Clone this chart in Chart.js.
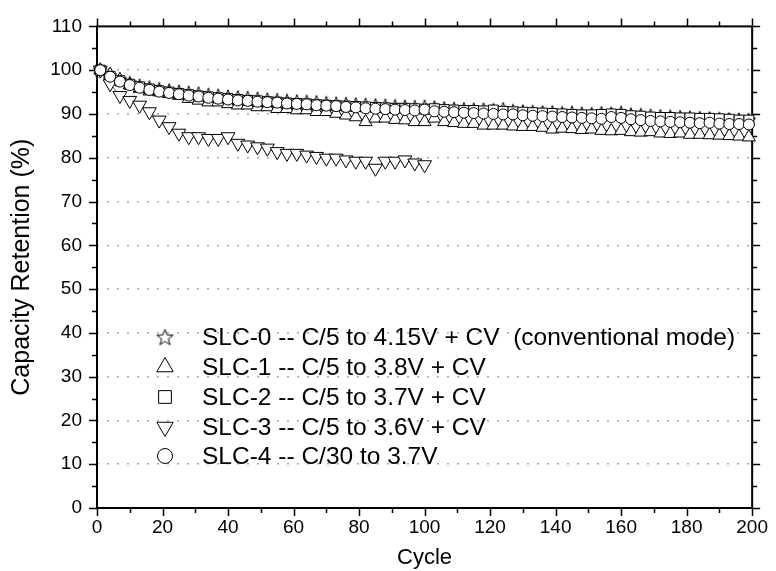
<!DOCTYPE html>
<html lang="en">
<head>
  <meta charset="UTF-8">
  <title>Capacity Retention vs Cycle</title>
  <script src="https://cdn.jsdelivr.net/npm/chart.js"></script>
  <style>
    body {
      margin: 0;
      padding: 0;
      background: #fff;
    }
    #wrap {
      width: 776px;
      height: 571px;
      position: relative;
    }
  </style>
</head>
<body>

<div id="wrap">
  <canvas id="retentionChart" width="776" height="571"></canvas>
</div>

<script>
  // cycle numbers (one point every 3 cycles)
  var cycles = [1, 4, 7, 10, 13, 16, 19, 22, 25, 28, 31, 34, 37, 40, 43, 46, 49, 52, 55, 58,
    61, 64, 67, 70, 73, 76, 79, 82, 85, 88, 91, 94, 97, 100, 103, 106, 109, 112, 115, 118,
    121, 124, 127, 130, 133, 136, 139, 142, 145, 148, 151, 154, 157, 160, 163, 166, 169, 172, 175, 178,
    181, 184, 187, 190, 193, 196, 199];

  // capacity retention (%)
  var slc0 = [100, 98.8, 97.9, 97.2, 96.6, 96.2, 95.8, 95.5, 95.2, 95.0, 94.8, 94.5, 94.3, 94.1, 93.9, 93.8, 93.6, 93.4, 93.3, 93.1,
    93.0, 92.9, 92.8, 92.6, 92.5, 92.4, 92.3, 92.2, 92.1, 92.0, 91.9, 91.8, 91.7, 91.8, 91.6, 91.4, 91.3, 91.2, 91.1, 91.1,
    91.0, 91.2, 90.8, 90.7, 90.6, 90.5, 90.5, 90.3, 90.4, 90.2, 90.1, 90.3, 90.2, 90.4, 90.0, 89.9, 89.7, 89.6, 89.5, 89.4,
    89.3, 89.2, 89.1, 89.0, 88.9, 88.8, 88.7];
  var slc1 = [100, 99.0, 97.8, 96.6, 95.8, 95.2, 95.0, 94.6, 94.2, 93.5, 93.1, 92.7, 92.7, 92.3, 92.0, 92.0, 91.6, 91.6, 91.2, 91.2,
    90.9, 90.9, 90.5, 90.5, 90.1, 89.7, 89.3, 88.2, 89.0, 89.0, 88.7, 88.6, 88.2, 88.2, 89.0, 88.2, 88.0, 87.8, 87.8, 87.4,
    87.4, 87.4, 87.2, 87.1, 87.1, 86.9, 86.5, 86.7, 86.6, 86.4, 86.5, 86.2, 86.1, 86.2, 85.9, 85.8, 85.9, 85.6, 85.5, 85.6,
    85.3, 85.3, 85.2, 85.1, 85.0, 84.9, 84.7];
  var slc2 = [100, 98.6, 97.6, 96.8, 96.2, 95.7, 95.3, 95.0, 94.7, 94.4, 94.1, 93.9, 93.7, 93.5, 93.3, 93.1, 93.0, 92.8, 92.7, 92.5,
    92.4, 92.3, 92.1, 92.0, 91.9, 91.8, 91.7, 91.6, 91.5, 91.4, 91.3, 91.3, 91.2, 91.1, 91.2, 91.0, 90.9, 90.8, 90.8, 90.7,
    90.9, 90.6, 90.5, 90.4, 90.3, 90.2, 90.1, 90.0, 89.9, 89.8, 89.8, 89.9, 90.0, 89.9, 89.6, 89.5, 89.3, 89.2, 89.2, 89.1,
    89.1, 89.0, 89.0, 88.9, 88.8, 88.6, 88.6];
  var slc3 = [100, 96.9, 94.2, 93.1, 92.0, 90.5, 88.6, 87.1, 85.6, 84.8, 84.8, 84.4, 84.4, 84.8, 83.3, 82.9, 82.5, 82.2, 81.4, 81.0,
    81.0, 80.6, 80.3, 79.9, 79.9, 79.5, 79.2, 79.2, 77.6, 79.2, 79.2, 79.5, 78.8, 78.4];
  var slc4 = [100, 98.5, 97.4, 96.6, 96.0, 95.5, 95.1, 94.8, 94.5, 94.2, 94.0, 93.7, 93.5, 93.3, 93.1, 93.0, 92.8, 92.7, 92.6, 92.4,
    92.3, 92.2, 92.0, 91.9, 91.8, 91.6, 91.5, 91.3, 91.2, 91.1, 91.0, 90.9, 90.8, 91.0, 90.6, 90.5, 90.4, 90.3, 90.2, 90.1,
    90.0, 89.9, 89.9, 89.7, 89.6, 89.5, 89.4, 89.3, 89.2, 89.1, 89.0, 88.9, 89.3, 89.1, 88.8, 88.6, 88.4, 88.3, 88.2, 88.1,
    88.0, 87.9, 88.0, 87.8, 87.7, 87.7, 87.6];

  var seriesLabels = [
    'SLC-0 -- C/5 to 4.15V + CV  (conventional mode)',
    'SLC-1 -- C/5 to 3.8V + CV',
    'SLC-2 -- C/5 to 3.7V + CV',
    'SLC-3 -- C/5 to 3.6V + CV',
    'SLC-4 -- C/30 to 3.7V'
  ];

  var FONT = "'Liberation Sans', Arial, sans-serif";

  // open five-point star, Chart.js has no such point style
  function makeStar(r) {
    var size = Math.ceil(r * 2 + 4);
    var c = document.createElement('canvas');
    c.width = size;
    c.height = size;
    var g = c.getContext('2d');
    var cx = size / 2, cy = size / 2 + r * 0.1;
    g.beginPath();
    for (var i = 0; i < 10; i++) {
      var a = -Math.PI / 2 + i * Math.PI / 5;
      var rr = (i % 2) ? r * 0.42 : r;
      var px = cx + Math.cos(a) * rr, py = cy + Math.sin(a) * rr;
      if (i === 0) g.moveTo(px, py); else g.lineTo(px, py);
    }
    g.closePath();
    g.fillStyle = '#fff';
    g.fill();
    g.lineWidth = 1;
    g.strokeStyle = '#000';
    g.stroke();
    return c;
  }

  var starSmall = makeStar(7);
  var starBig = makeStar(8.5);

  function toPoints(ys) {
    return ys.map(function (y, i) { return { x: cycles[i], y: y }; });
  }

  function series(label, ys, style, radius, rotation, order) {
    return {
      label: label,
      data: toPoints(ys),
      borderColor: '#555',
      borderWidth: 1,
      pointStyle: style,
      pointRadius: radius,
      pointRotation: rotation,
      pointBackgroundColor: '#fff',
      pointBorderColor: '#000',
      pointBorderWidth: 1,
      fill: false,
      tension: 0,
      clip: false,
      order: order
    };
  }

  // legend symbols (bigger than in-plot markers)
  var legendMarks = [
    { pointStyle: starBig, radius: 8, rotation: 0 },
    { pointStyle: 'triangle', radius: 9.5, rotation: 0 },
    { pointStyle: 'rect', radius: 9, rotation: 0 },
    { pointStyle: 'triangle', radius: 9.5, rotation: 180 },
    { pointStyle: 'circle', radius: 7.5, rotation: 0 }
  ];

  var framePlugin = {
    id: 'frame',
    beforeDatasetsDraw: function (chart) {
      var ctx = chart.ctx, a = chart.chartArea;
      var xs = chart.scales.x, ys = chart.scales.y;
      ctx.save();
      ctx.strokeStyle = '#000';
      ctx.lineWidth = 1.5;
      ctx.beginPath();
      // x ticks, major every 20, minor every 10
      for (var v = 0; v <= 200; v += 10) {
        var px = Math.round(xs.getPixelForValue(v)) + 0.5;
        var len = (v % 20 === 0) ? 8 : 5;
        ctx.moveTo(px, a.bottom); ctx.lineTo(px, a.bottom + len);
        ctx.moveTo(px, a.top); ctx.lineTo(px, a.top - len);
      }
      // y ticks, major every 10, minor every 5
      for (var w = 0; w <= 110; w += 5) {
        var py = Math.round(ys.getPixelForValue(w)) + 0.5;
        var l2 = (w % 10 === 0) ? 8 : 5;
        ctx.moveTo(a.left, py); ctx.lineTo(a.left - l2, py);
        ctx.moveTo(a.right, py); ctx.lineTo(a.right + l2, py);
      }
      ctx.stroke();
      ctx.lineWidth = 2;
      ctx.strokeRect(a.left, a.top, a.right - a.left, a.bottom - a.top);
      ctx.restore();
    }
  };

  var legendPlugin = {
    id: 'insideLegend',
    afterDatasetsDraw: function (chart) {
      var ctx = chart.ctx;
      var markX = 165, textX = 202;
      var rowY = [337, 367, 397, 427, 456];
      ctx.save();
      for (var i = 0; i < seriesLabels.length; i++) {
        ctx.fillStyle = '#fff';
        ctx.strokeStyle = '#000';
        ctx.lineWidth = 1;
        Chart.helpers.drawPoint(ctx, {
          pointStyle: legendMarks[i].pointStyle,
          radius: legendMarks[i].radius,
          rotation: legendMarks[i].rotation,
          borderWidth: 1
        }, markX, rowY[i]);
        ctx.fillStyle = '#000';
        ctx.font = '24.5px ' + FONT;
        ctx.textBaseline = 'middle';
        ctx.textAlign = 'left';
        ctx.fillText(seriesLabels[i], textX, rowY[i] + 1);
      }
      ctx.restore();
    }
  };

  document.addEventListener('DOMContentLoaded', function () {
    var ctx = document.getElementById('retentionChart').getContext('2d');
    new Chart(ctx, {
      type: 'line',
      data: {
        datasets: [
          series(seriesLabels[0], slc0, starSmall, 7, 0, 4),
          series(seriesLabels[1], slc1, 'triangle', 7.5, 0, 3),
          series(seriesLabels[2], slc2, 'rect', 7, 0, 2),
          series(seriesLabels[3], slc3, 'triangle', 8, 180, 1),
          series(seriesLabels[4], slc4, 'circle', 5.5, 0, 0)
        ]
      },
      options: {
        responsive: false,
        animation: false,
        layout: { padding: { left: 0, top: 23, right: 15, bottom: 0 } },
        plugins: {
          legend: { display: false },
          tooltip: { enabled: false }
        },
        scales: {
          x: {
            type: 'linear',
            min: 0,
            max: 200,
            afterFit: function (s) { s.height = 63; },
            ticks: {
              stepSize: 20,
              padding: 8,
              color: '#000',
              maxRotation: 0,
              font: { family: FONT, size: 19 }
            },
            grid: { display: false, drawTicks: false },
            border: { display: false },
            title: {
              display: true,
              text: 'Cycle',
              color: '#000',
              padding: { top: 0, bottom: 0 },
              font: { family: FONT, size: 22 }
            }
          },
          y: {
            min: 0,
            max: 110,
            afterFit: function (s) { s.width = 97; },
            ticks: {
              stepSize: 10,
              padding: 15,
              color: '#000',
              font: { family: FONT, size: 19 }
            },
            grid: {
              drawTicks: false,
              lineWidth: 1.5,
              color: function (c) {
                var v = c.tick ? c.tick.value : 0;
                return (v === 0 || v === 110) ? 'rgba(0,0,0,0)' : '#a8a8a8';
              }
            },
            border: { display: false, dash: [2, 8] },
            title: {
              display: true,
              text: 'Capacity Retention (%)',
              color: '#000',
              padding: { top: 7, bottom: 0 },
              font: { family: FONT, size: 25 }
            }
          }
        }
      },
      plugins: [framePlugin, legendPlugin]
    });
  });
</script>

</body>
</html>
